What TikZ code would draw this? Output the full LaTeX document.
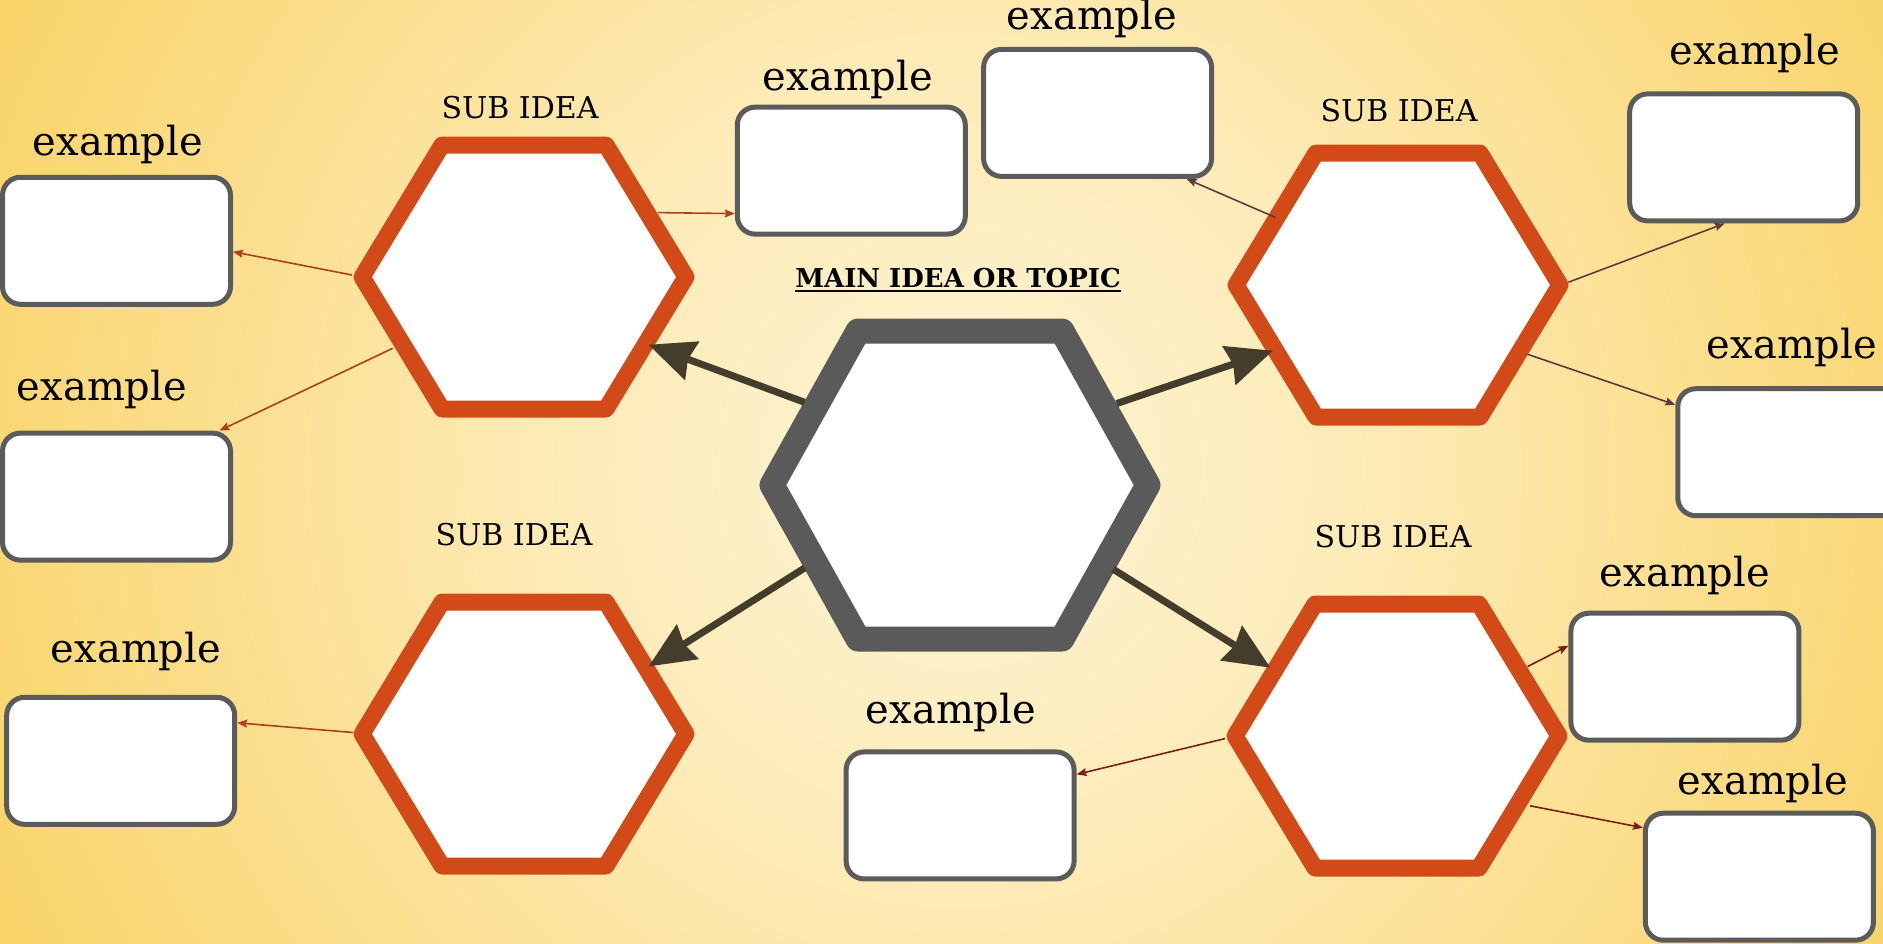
\documentclass[tikz,border=0pt]{standalone}
\usepackage{fontspec}
\setmainfont{DejaVu Serif}
\usetikzlibrary{arrows.meta,calc}
\definecolor{hexor}{HTML}{D14A18}
\definecolor{hexgray}{HTML}{5A5A5A}
\definecolor{boxgray}{HTML}{5B5B5B}
\definecolor{arrdark}{HTML}{453D2B}
\definecolor{linkL}{HTML}{B03F18}
\definecolor{linkTR}{HTML}{5B3C3E}
\definecolor{linkBR}{HTML}{7A2014}
\definecolor{bgA}{HTML}{FEF4D3}
\definecolor{bgB}{HTML}{FDEBB8}
\definecolor{bgC}{HTML}{FBDD88}
\definecolor{bgD}{HTML}{F9D367}
\pgfdeclareradialshading{bgshade}{\pgfpoint{0bp}{0bp}}{color(0bp)=(bgA); color(10bp)=(bgB); color(20bp)=(bgC); color(27bp)=(bgD); color(50bp)=(bgD)}
\newcommand{\ulinetext}[1]{{\setbox0\hbox{#1}\rlap{\rule[-5pt]{\wd0}{2.5pt}}\box0}}
\begin{document}
\begin{tikzpicture}[x=1pt,y=-1pt,
  hexedge/.style={draw=hexor,line width=17pt,line join=round,fill=white},
  mainhex/.style={draw=hexgray,line width=25pt,line join=round,fill=white},
  exbox/.style={draw=boxgray,line width=5pt,fill=white,rounded corners=18pt,minimum width=228pt,minimum height=127pt,inner sep=0pt},
  exlabel/.style={font=\fontsize{40}{42}\selectfont,inner sep=0pt},
  sublabel/.style={font=\fontsize{30}{32}\selectfont,inner sep=0pt},
  titlelabel/.style={font=\fontsize{26}{28}\selectfont\bfseries,inner sep=0pt},
  thickarrow/.style={draw=arrdark,line width=7pt,-{Stealth[length=46pt,width=40pt,inset=4pt]}},
  thinarrow/.style={line width=1.6pt,-{Stealth[length=10pt,width=8pt,inset=1.5pt]}},
  orhex/.pic={\path[hexedge] (-82,-132) -- (82,-132) -- (162,0) -- (82,132) -- (-82,132) -- (-162,0) -- cycle;}
]
\useasboundingbox (0,0) rectangle (1883,943);
\clip (0,0) rectangle (1883,943);
\shade[shading=bgshade] (-40,-530) rectangle (1960,1470);

% hexagons
\pic at (524,277) {orhex};
\pic at (1398,285) {orhex};
\pic at (524,734) {orhex};
\pic at (1397,736) {orhex};
\path[mainhex] (858,331) -- (1062,331) -- (1148,485) -- (1062,639) -- (858,639) -- (772,485) -- cycle;

% example boxes
\node[exbox] (b1) at (116.5,240.8) {};
\node[exbox] (b2) at (116.5,496.6) {};
\node[exbox] (b3) at (120.7,760.8) {};
\node[exbox] (b4) at (851.3,170.6) {};
\node[exbox] (b5) at (1097.6,112.9) {};
\node[exbox] (b6) at (1743.7,157.4) {};
\node[exbox] (b7) at (1791.8,452.2) {};
\node[exbox] (b8) at (1684.9,676.7) {};
\node[exbox] (b9) at (1759.4,876.7) {};
\node[exbox] (b10) at (960.1,815.4) {};

% labels
\node[exlabel] (l1) at (118,144) {example};
\node[exlabel] (l2) at (102,389) {example};
\node[exlabel] (l3) at (136,651) {example};
\node[exlabel] (l4) at (848,79) {example};
\node[exlabel] (l5) at (1092,18) {example};
\node[exlabel] (l6) at (1755,53) {example};
\node[exlabel] (l7) at (1792,347) {example};
\node[exlabel] (l8) at (1685,575) {example};
\node[exlabel] (l9) at (1763,783) {example};
\node[exlabel] (l10) at (951,712) {example};

\node[sublabel] (s1) at (520,108) {SUB IDEA};
\node[sublabel] (s2) at (1399,111) {SUB IDEA};
\node[sublabel] (s3) at (514,535) {SUB IDEA};
\node[sublabel] (s4) at (1393,537) {SUB IDEA};

\node[titlelabel] (title) at (958,280) {\ulinetext{MAIN IDEA OR TOPIC}};

% thick arrows
\coordinate (m1) at (804.6,402.3);
\coordinate (m2) at (1116.8,403.5);
\coordinate (m3) at (804.6,568);
\coordinate (m4) at (1113.2,569.2);
\coordinate (h1) at (648.5,344.7);
\coordinate (h2) at (1273,350.7);
\coordinate (h3) at (648.5,666.5);
\coordinate (h4) at (1270.5,667.7);
\draw[thickarrow] (m1) -- (h1);
\draw[thickarrow] (m2) -- (h2);
\draw[thickarrow] (m3) -- (h3);
\draw[thickarrow] (m4) -- (h4);

% thin connectors
\coordinate (ca) at (352,275);
\coordinate (cb) at (392.7,348.3);
\coordinate (cc) at (658,212.6);
\coordinate (cd) at (353,732.5);
\coordinate (ce) at (1275.4,217.4);
\coordinate (cf) at (1568.4,282.2);
\coordinate (cg) at (1527.6,354.3);
\coordinate (ch) at (1527.6,666.5);
\coordinate (ci) at (1225,738.6);
\coordinate (cj) at (1530,805.8);
\draw[thinarrow,draw=linkL,fill=linkL] (ca) -- ([yshift=-11pt]b1.east);
\draw[thinarrow,draw=linkL,fill=linkL] (cb) -- ([xshift=103pt]b2.north);
\draw[thinarrow,draw=linkL,fill=linkL] (cc) -- ([yshift=-43pt]b4.west);
\draw[thinarrow,draw=linkL,fill=linkL] (cd) -- ([yshift=38pt]b3.east);
\draw[thinarrow,draw=linkTR,fill=linkTR] (ce) -- ([xshift=89pt]b5.south);
\draw[thinarrow,draw=linkTR,fill=linkTR] (cf) -- ([xshift=-19pt]b6.south);
\draw[thinarrow,draw=linkTR,fill=linkTR] (cg) -- ([yshift=47.5pt]b7.west);
\draw[thinarrow,draw=linkBR,fill=linkBR] (ch) -- ([yshift=31pt]b8.west);
\draw[thinarrow,draw=linkBR,fill=linkBR] (ci) -- ([yshift=41pt]b10.east);
\draw[thinarrow,draw=linkBR,fill=linkBR] (cj) -- ([yshift=49pt]b9.west);
\end{tikzpicture}
\end{document}
